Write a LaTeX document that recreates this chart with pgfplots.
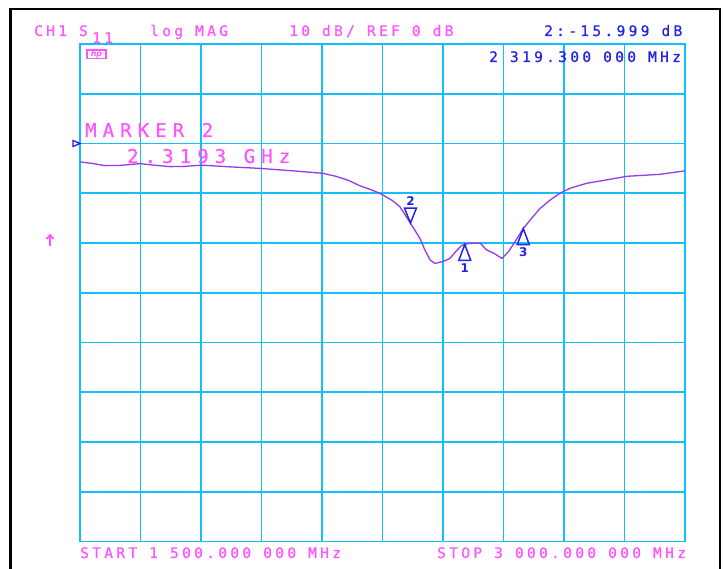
\documentclass[border=0pt]{standalone}
\usepackage{pgfplots}
\pgfplotsset{compat=1.18}
\usepackage{fontspec}
\newfontfamily\crt[LetterSpace=23,FakeBold=0.8]{DejaVu Sans Mono}
\newfontfamily\crtw[LetterSpace=32,FakeBold=0.8]{DejaVu Sans Mono}
\newfontfamily\mkfont{DejaVu Sans}
\definecolor{gridc}{RGB}{20,190,250}
\definecolor{magc}{RGB}{255,85,255}
\definecolor{trc}{RGB}{150,60,230}
\definecolor{mkc}{RGB}{35,35,225}

% marker glyphs with the tip at the data point
\pgfdeclareplotmark{mup}{%
  \pgfpathmoveto{\pgfpointorigin}%
  \pgfpathlineto{\pgfpoint{-6pt}{-16pt}}%
  \pgfpathlineto{\pgfpoint{6pt}{-16pt}}%
  \pgfpathclose\pgfusepathqstroke}
\pgfdeclareplotmark{mdown}{%
  \pgfpathmoveto{\pgfpointorigin}%
  \pgfpathlineto{\pgfpoint{-6pt}{15pt}}%
  \pgfpathlineto{\pgfpoint{6pt}{15pt}}%
  \pgfpathclose\pgfusepathqstroke}
\pgfdeclareplotmark{mref}{%
  \pgfpathmoveto{\pgfpointorigin}%
  \pgfpathlineto{\pgfpoint{-7pt}{3pt}}%
  \pgfpathlineto{\pgfpoint{-7pt}{-3pt}}%
  \pgfpathclose\pgfusepathqstroke}

\begin{document}
\begin{tikzpicture}[x=1pt,y=1pt]
\useasboundingbox (0,0) rectangle (723,569);
\clip (0,0) rectangle (723,569);
\fill[white] (0,0) rectangle (723,569);
\draw[line width=2.5pt] (10.5,-5) -- (10.5,560) -- (720,560) -- (720,-5);

\begin{axis}[
    at={(80pt,27.5pt)}, anchor=south west,
    scale only axis, width=605pt, height=497.5pt,
    xmin=1500, xmax=3000, ymin=-80, ymax=20,
    xtick={1500,1650,...,3000}, ytick={-80,-70,...,20},
    xticklabels={}, yticklabels={},
    major tick length=0pt,
    grid=major,
    grid style={gridc, line width=1.8pt},
    axis line style={gridc, line width=1.8pt},
    clip=false,
]
\addplot[trc, line width=1.3pt, mark=none] coordinates {
 (1500,-3.7) (1530,-4.0) (1562,-4.45) (1600,-4.4) (1649,-4.05) (1690,-4.4)
 (1723,-4.65) (1760,-4.6) (1802,-4.35) (1872,-4.7) (1946,-5.0) (2028,-5.5)
 (2102,-6.0) (2135,-6.6) (2165,-7.4) (2194,-8.5) (2222,-9.3) (2248,-10.2)
 (2275,-11.5) (2293,-12.7) (2319.3,-16.0)
 (2343,-19.1) (2355,-21.4) (2368,-23.4) (2380,-24.1) (2401,-23.7) (2417,-23.1)
 (2434,-21.5) (2446,-20.5) (2463,-20.1) (2492,-20.0) (2508,-21.4) (2525,-22.0)
 (2546,-23.1) (2562,-21.8) (2578,-19.8) (2599,-17.1) (2620,-15.0) (2640,-13.1)
 (2665,-11.4) (2690,-10.0) (2715,-9.0) (2756,-8.0) (2814,-7.2) (2855,-6.6)
 (2938,-6.2) (3000,-5.5)
};
% markers 1 and 3 (below trace), 2 (above trace), reference position
\addplot[mkc, line width=1.5pt, only marks, mark=mup] coordinates {(2454,-20.3) (2599,-17.1)};
\addplot[mkc, line width=1.5pt, only marks, mark=mdown] coordinates {(2319.3,-16.0)};
\addplot[mkc, line width=1.3pt, only marks, mark=mref] coordinates {(1500,0)};
\node[mkc, font=\mkfont\bfseries\fontsize{12}{12}\selectfont, anchor=north, inner sep=0]
  at (axis cs:2454,-20.3) [yshift=-19pt] {1};
\node[mkc, font=\mkfont\bfseries\fontsize{12}{12}\selectfont, anchor=north, inner sep=0]
  at (axis cs:2599,-17.1) [yshift=-19pt] {3};
\node[mkc, font=\mkfont\bfseries\fontsize{12}{12}\selectfont, anchor=south, inner sep=0]
  at (axis cs:2319.3,-16.0) [yshift=17pt] {2};
\end{axis}

\tikzset{lbl/.style={anchor=base west, inner sep=0, font=\crt\fontsize{14.5}{14.5}\selectfont}}
\node[lbl, text=magc] at (34,533) {CH1 S};
\node[lbl, text=magc] at (92,526) {11};
\node[lbl, text=magc] at (150,533) {log MAG};
\node[lbl, text=magc] at (289,533) {10 dB/ REF 0 dB};
\node[lbl, text=mkc] at (544,533) {2:-15.999 dB};
\node[lbl, text=mkc] at (489,507) {2 319.300 000 MHz};
\node[lbl, text=magc] at (80,11) {START 1 500.000 000 MHz};
\node[lbl, text=magc] at (437,11) {STOP 3 000.000 000 MHz};
\node[anchor=base west, inner sep=0, text=magc, font=\crtw\fontsize{19}{19}\selectfont] at (85,432) {MARKER 2};
\node[anchor=base west, inner sep=0, text=magc, font=\crtw\fontsize{19}{19}\selectfont] at (127,406) {2.3193 GHz};

% hp badge and the small arrow at the left edge
\draw[magc, line width=1.2pt] (87,510.5) rectangle (106,519);
\node[magc, inner sep=0, font=\mkfont\bfseries\itshape\fontsize{8}{8}\selectfont] at (96.5,514.5) {hp};
\draw[magc, line width=1.8pt] (50,323) -- (50,334);
\draw[magc, line width=1.8pt] (46.5,330) -- (50,334) -- (53.5,330);
\end{tikzpicture}
\end{document}
